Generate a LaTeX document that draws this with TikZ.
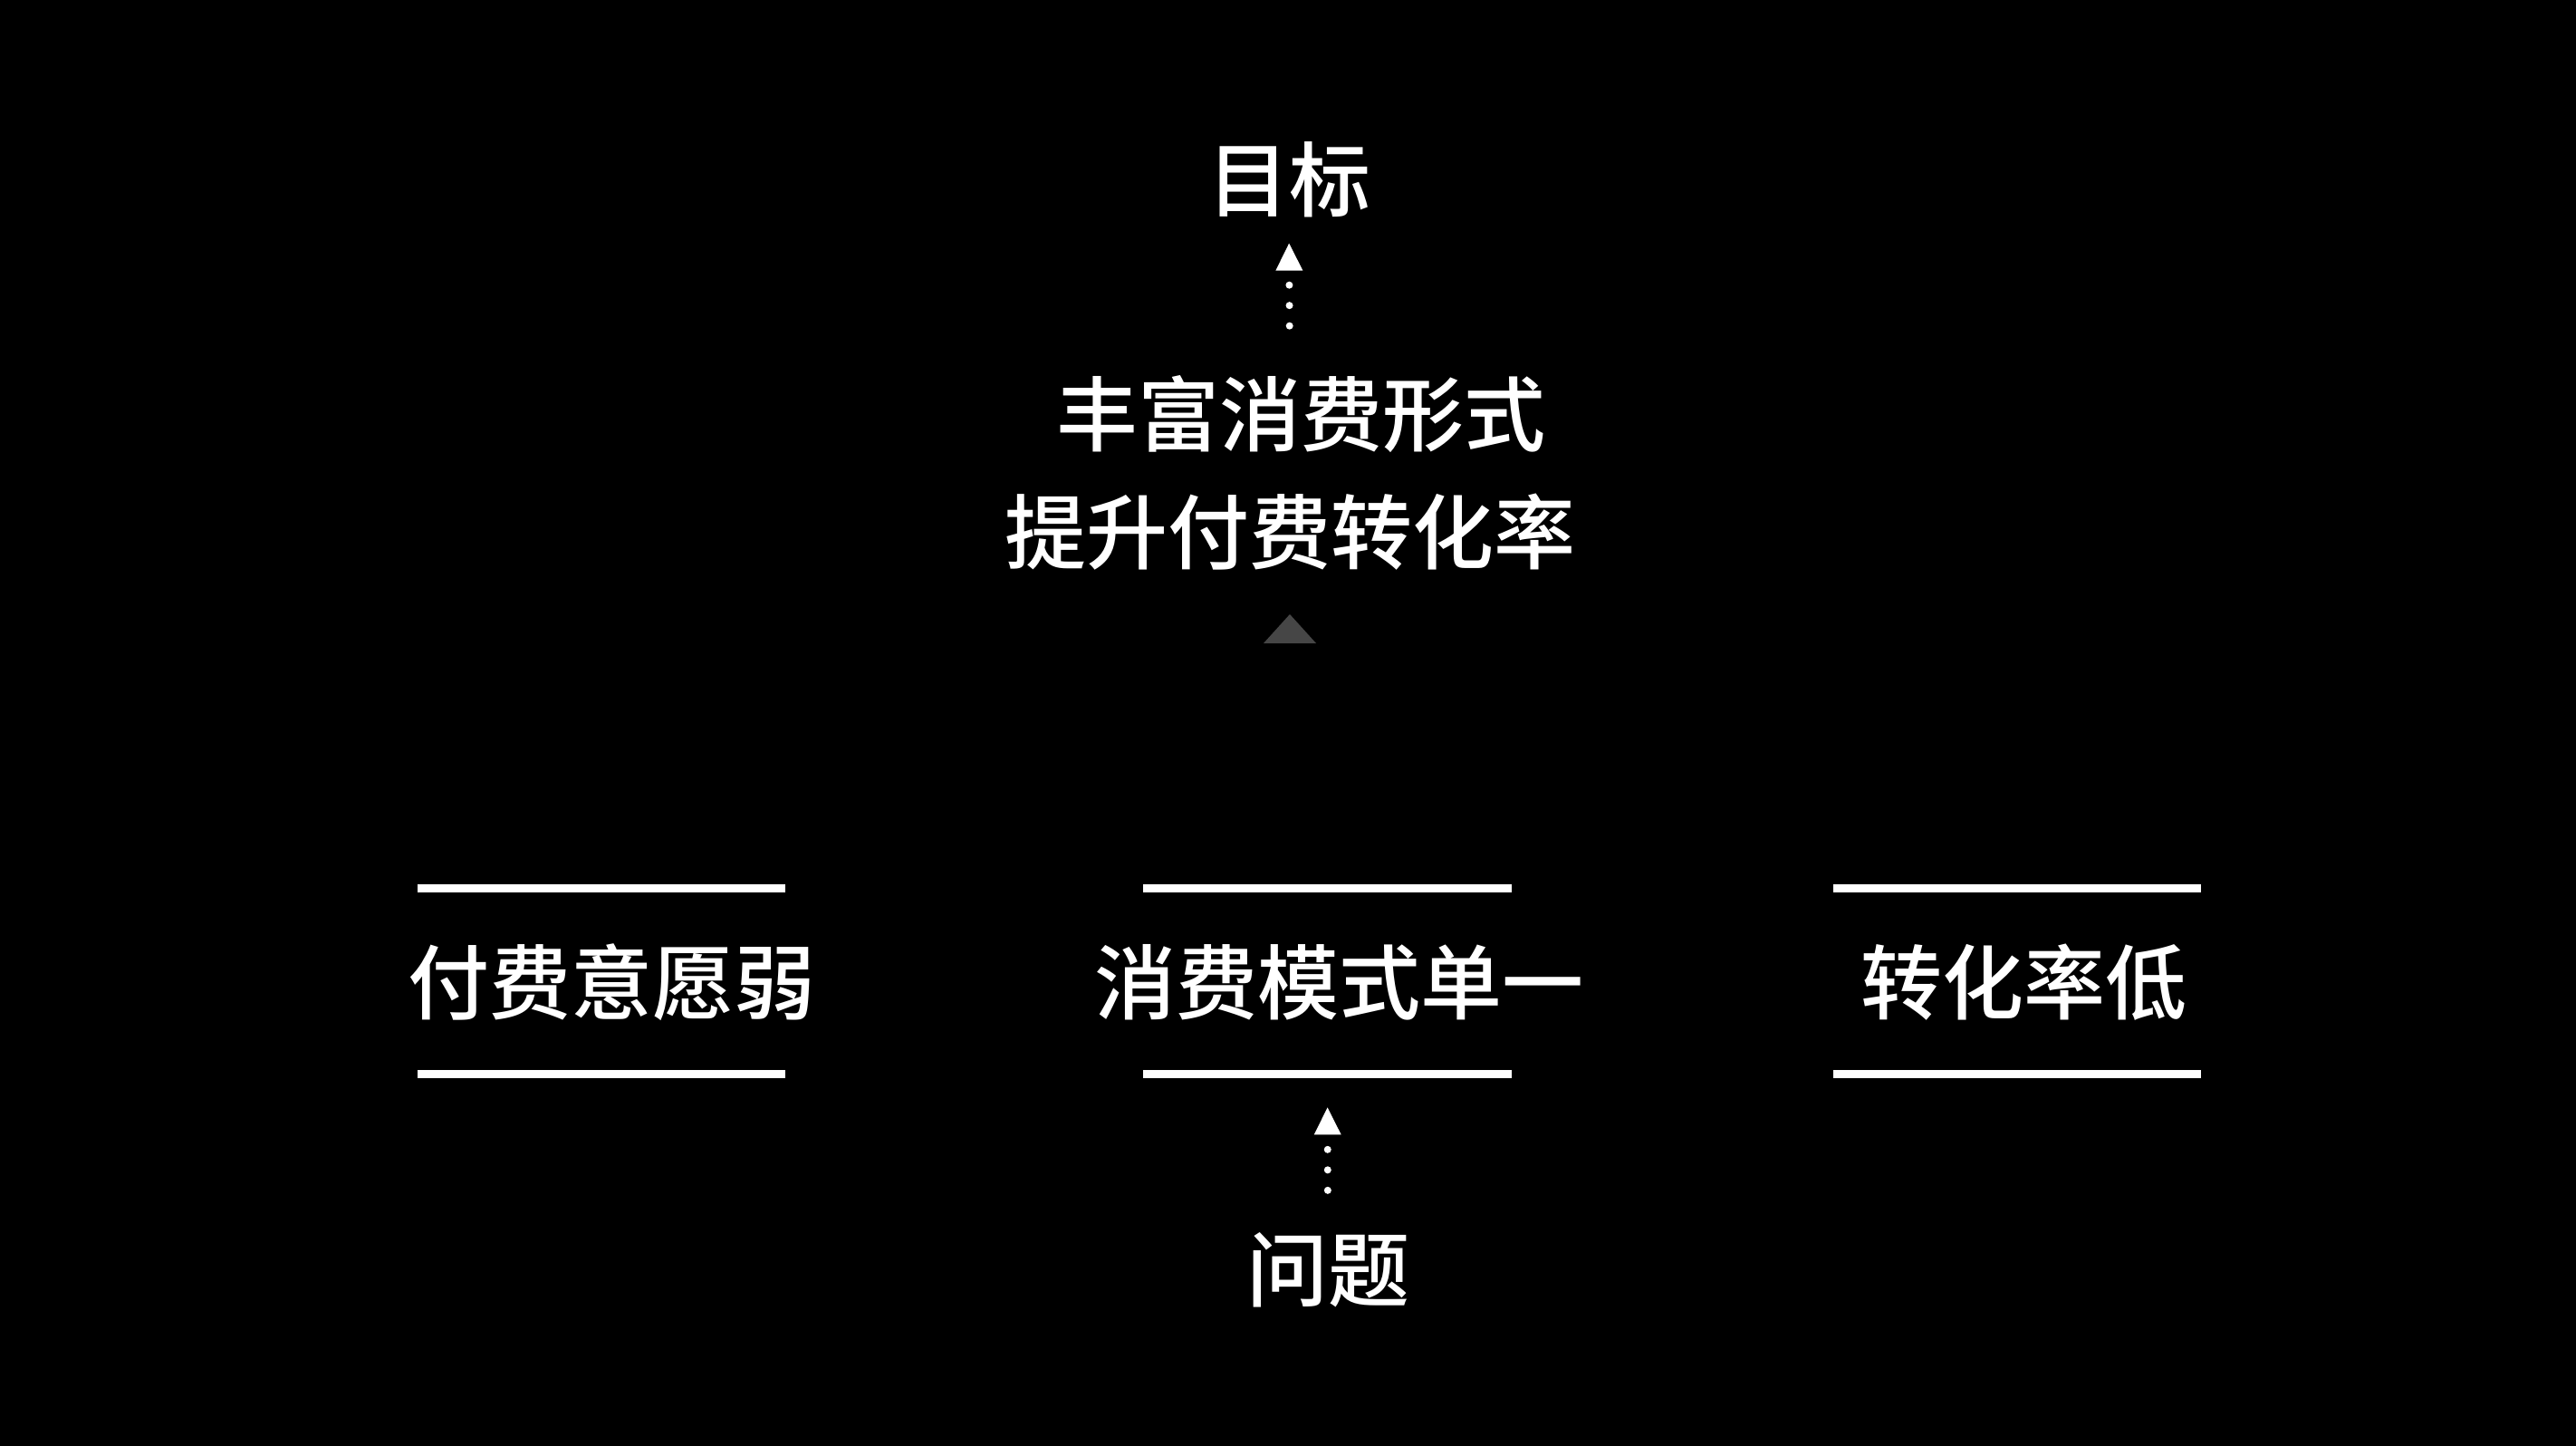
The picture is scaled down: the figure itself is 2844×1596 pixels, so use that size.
\documentclass[tikz,border=0pt]{standalone}
\usepackage{fontspec}
\newfontfamily\cjk{Noto Sans CJK SC Medium}
\usetikzlibrary{arrows.meta}
\definecolor{tri}{RGB}{70,70,70}
\begin{document}
\begin{tikzpicture}[x=0.5pt,y=-0.5pt,
  lbl/.style={text=white,inner sep=0pt,font=\cjk\fontsize{45}{65}\selectfont},
  frame/.style={minimum width=203pt,minimum height=102.25pt,inner sep=0pt},
  rule/.style={white,line width=4.5pt},
  conn/.style={white,line width=4pt,line cap=round,dash pattern=on 0pt off 11.25pt,
    -{Triangle[length=15pt,width=15pt,line width=0pt]}}]
\fill[black] (0,0) rectangle (2844,1596);
% top
\node[lbl] (goal) at (1423,198.5) {目标};
\node[lbl,align=center] (plan) at (1424,521.5) {\hspace*{12pt}丰富消费形式\\提升付费转化率};
\fill[tri] (1424,678) -- (1453,710) -- (1395,710) -- cycle;
% frames
\node[frame] (fl) at (664,1082.75) {};
\node[frame] (fm) at (1465.5,1082.75) {};
\node[frame] (fr) at (2227,1082.75) {};
\foreach \f in {fl,fm,fr}{
  \draw[rule] (\f.north west) -- (\f.north east);
  \draw[rule] (\f.south west) -- (\f.south east);
}
\node[lbl] (tl) at (675,1084) {付费意愿弱};
\node[lbl] (tm) at (1478,1084) {消费模式单一};
\node[lbl] (tr) at (2234,1084) {转化率低};
\node[lbl] (prob) at (1466,1401.5) {问题};
% connectors
\draw[conn,shorten <=23pt,shorten >=18.5pt] (prob.north) -- (fm.south);
\draw[conn,shorten <=27pt,shorten >=14pt] (plan.north) -- (goal.south);
\end{tikzpicture}
\end{document}
